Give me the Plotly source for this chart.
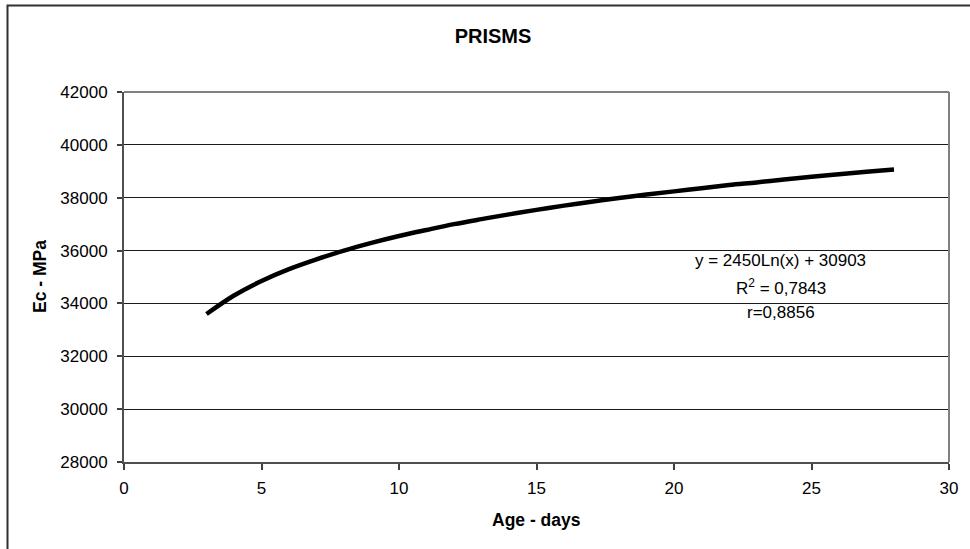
import plotly.graph_objects as go

# Values (trendline of Ec vs age)
age_days = [3, 4, 5, 6, 7, 8, 9, 10, 11, 12, 13, 14, 15, 16, 17, 18, 19, 20,
            21, 22, 23, 24, 25, 26, 27, 28]
ec_mpa = [33600, 34300, 34850, 35300, 35670, 36000, 36290, 36550, 36780, 37000,
          37190, 37370, 37540, 37700, 37850, 37990, 38120, 38240, 38360, 38480,
          38580, 38690, 38790, 38890, 38980, 39070]

x_ticks = [0, 5, 10, 15, 20, 25, 30]
y_ticks = [28000, 30000, 32000, 34000, 36000, 38000, 40000, 42000]

title_text = "PRISMS"
x_title = "Age - days"
y_title = "Ec - MPa"
eq_lines = ["y = 2450Ln(x) + 30903", "R<sup>2</sup> = 0,7843", "r=0,8856"]

FONT = "Liberation Sans, Arial, sans-serif"

fig = go.Figure()
fig.add_trace(go.Scatter(
    x=age_days, y=ec_mpa, mode="lines",
    line=dict(color="black", width=4.5, shape="spline"),
    showlegend=False, hoverinfo="skip",
))

fig.update_layout(
    width=970, height=549,
    margin=dict(l=124, r=21, t=92, b=87),
    paper_bgcolor="white", plot_bgcolor="white",
    font=dict(family=FONT, size=17, color="black"),
    title=dict(text="<b>" + title_text + "</b>", x=493 / 970, y=1 - 36 / 549,
               xref="container", yref="container",
               xanchor="center", yanchor="middle",
               font=dict(family=FONT, size=20, color="black")),
    showlegend=False,
)

fig.update_xaxes(
    range=[0, 30], tickvals=x_ticks, ticktext=[str(v) for v in x_ticks],
    showgrid=False, zeroline=False,
    showline=True, linecolor="#505050", linewidth=2,
    ticks="outside", ticklen=6, tickwidth=1.5, tickcolor="#404040",
    ticklabelstandoff=4,
    tickfont=dict(family=FONT, size=17, color="black"),
)
fig.update_yaxes(
    range=[28000, 42000], tickvals=y_ticks, ticktext=[str(v) for v in y_ticks],
    showgrid=True, gridcolor="#1a1a1a", gridwidth=1, zeroline=False,
    showline=True, linecolor="#505050", linewidth=2,
    ticks="outside", ticklen=5, tickwidth=1.5, tickcolor="#404040",
    ticklabelstandoff=6,
    tickfont=dict(family=FONT, size=17, color="black"),
)

# plot area top/right border (gray)
fig.add_shape(type="line", xref="paper", yref="paper", x0=0, x1=1, y0=1, y1=1,
              line=dict(color="#808080", width=2))
fig.add_shape(type="line", xref="paper", yref="paper", x0=1, x1=1, y0=0, y1=1,
              line=dict(color="#808080", width=2))

# outer chart border (extends past right/bottom of the window)
fig.add_shape(type="rect", xref="paper", yref="paper",
              x0=(7.5 - 124) / 825, x1=1.3, y0=-0.6, y1=1 + (92 - 5.5) / 370,
              line=dict(color="#303030", width=2), fillcolor="rgba(0,0,0,0)",
              layer="above")

# axis titles
fig.add_annotation(text="<b>" + y_title + "</b>", xref="paper", yref="paper",
                   x=(40 - 124) / 825, y=0.5, textangle=-90, showarrow=False,
                   xanchor="center", yanchor="middle",
                   font=dict(family=FONT, size=17.5, color="black"))
fig.add_annotation(text="<b>" + x_title + "</b>", xref="paper", yref="paper",
                   x=(536 - 124) / 825, y=1 - (520 - 92) / 370, showarrow=False,
                   xanchor="center", yanchor="middle",
                   font=dict(family=FONT, size=17.5, color="black"))

# trendline equation labels
for txt, py in zip(eq_lines, [260.7, 287, 312]):
    fig.add_annotation(text=txt, xref="paper", yref="paper",
                       x=(780.5 - 124) / 825, y=1 - (py - 92) / 370,
                       showarrow=False, xanchor="center", yanchor="middle",
                       font=dict(family=FONT, size=17, color="black"))

fig.write_html("out.html")
